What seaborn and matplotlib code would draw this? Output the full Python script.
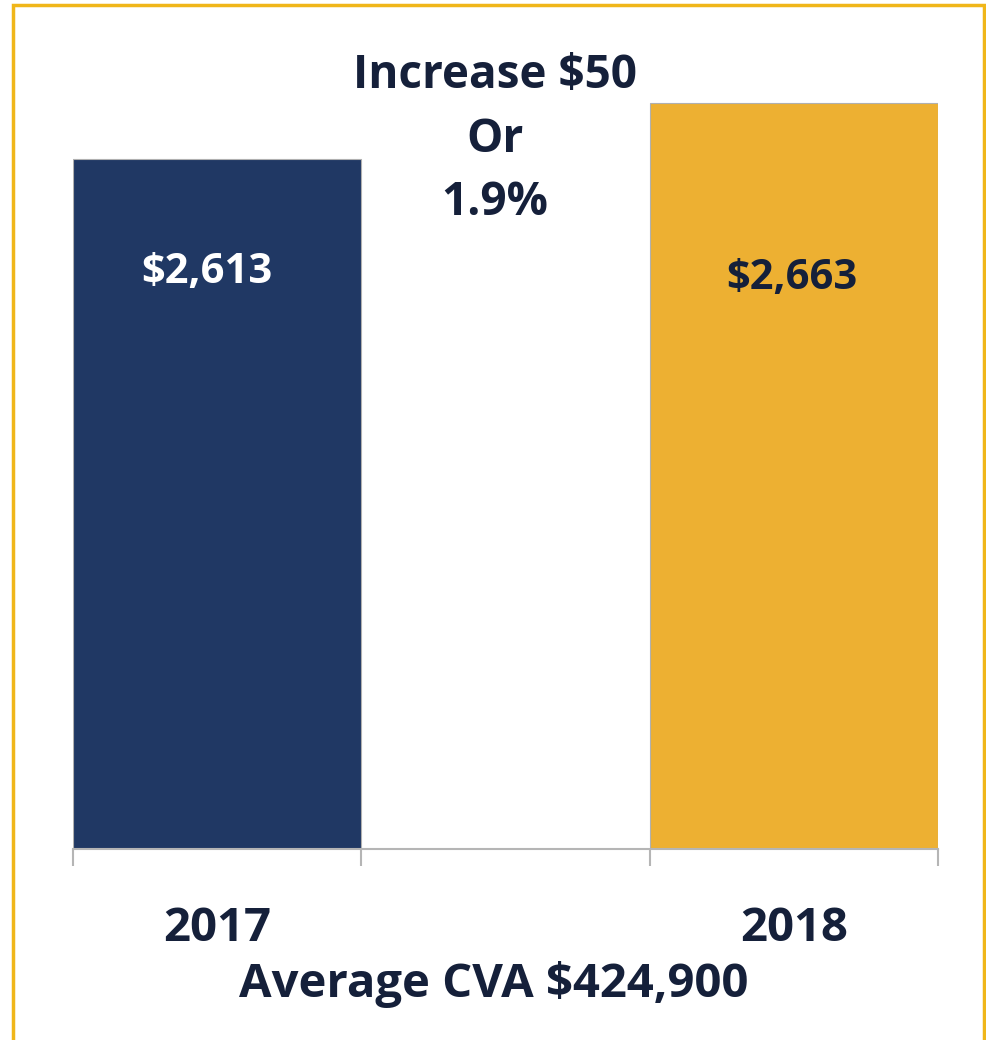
import pandas as pd
import numpy as np
import matplotlib.pyplot as plt
import seaborn as sns
from matplotlib.patches import Rectangle

# Chart data
years = ["2017", "2018"]
cva_values = [2613, 2663]
category_order = ["2017", " ", "2018"]
value_labels = ["$2,613", "$2,663"]
annotation = "Increase $50\nOr\n1.9%"
footer = "Average CVA $424,900"

navy = "#203864"
gold = "#EDB032"
text_dark = "#15203A"

df = pd.DataFrame({"year": years, "cva": cva_values})

sns.set_style("white")
plt.rcParams['font.family'] = ['Open Sans', 'DejaVu Sans']

fig = plt.figure(figsize=(9.86, 10.4), dpi=100)
ax = fig.add_axes([73 / 986, 1 - 849 / 1040, 865 / 986, (849 - 61) / 1040])

sns.barplot(data=df, x="year", y="cva", hue="year", order=category_order,
            palette={"2017": navy, "2018": gold}, width=1.0, legend=False,
            saturation=1, edgecolor="#B0B0B0", linewidth=0.8, ax=ax)

ax.set_ylim(2000, 2700)
ax.set_xlim(-0.5, 2.5)
ax.set_yticks([])
ax.set_ylabel("")
ax.set_xlabel("")

# category labels at bar centres, boundary ticks as minor ticks
ax.set_xticks([0, 1, 2])
ax.set_xticklabels(["2017", "", "2018"], fontsize=34, fontweight="bold", color=text_dark)
ax.tick_params(axis="x", which="major", length=0, pad=40)
ax.set_xticks([-0.5, 0.5, 1.5, 2.5], minor=True)
ax.tick_params(axis="x", which="minor", bottom=True, direction="out",
               length=12, width=1.5, color="#B5B5B5")

for side in ["top", "left", "right"]:
    ax.spines[side].set_visible(False)
ax.spines["bottom"].set_color("#B5B5B5")
ax.spines["bottom"].set_linewidth(1.5)

# value labels inside bars
label_colors = ["white", text_dark]
label_pos = [-0.035, 1.993]
label_y = [2512, 2507]
for xp, yp, lab, c in zip(label_pos, label_y, value_labels, label_colors):
    ax.text(xp, yp, lab, ha="center", va="center", fontsize=30,
            fontweight="bold", color=c)

fig.text(495 / 986, 1 - 139 / 1040, annotation, ha="center", va="center",
         fontsize=33, fontweight="bold", color=text_dark, linespacing=1.45)

fig.text(494 / 986, 1 - 985 / 1040, footer, ha="center", va="center",
         fontsize=34, fontweight="bold", color=text_dark)

# yellow frame
fig.patches.append(Rectangle((13 / 986, -0.05), (984 - 13) / 986, 1.05 - 5 / 1040,
                             transform=fig.transFigure, fill=False,
                             edgecolor="#F0B619", linewidth=2.5))

fig.savefig("out.png", dpi=100)
plt.close(fig)
